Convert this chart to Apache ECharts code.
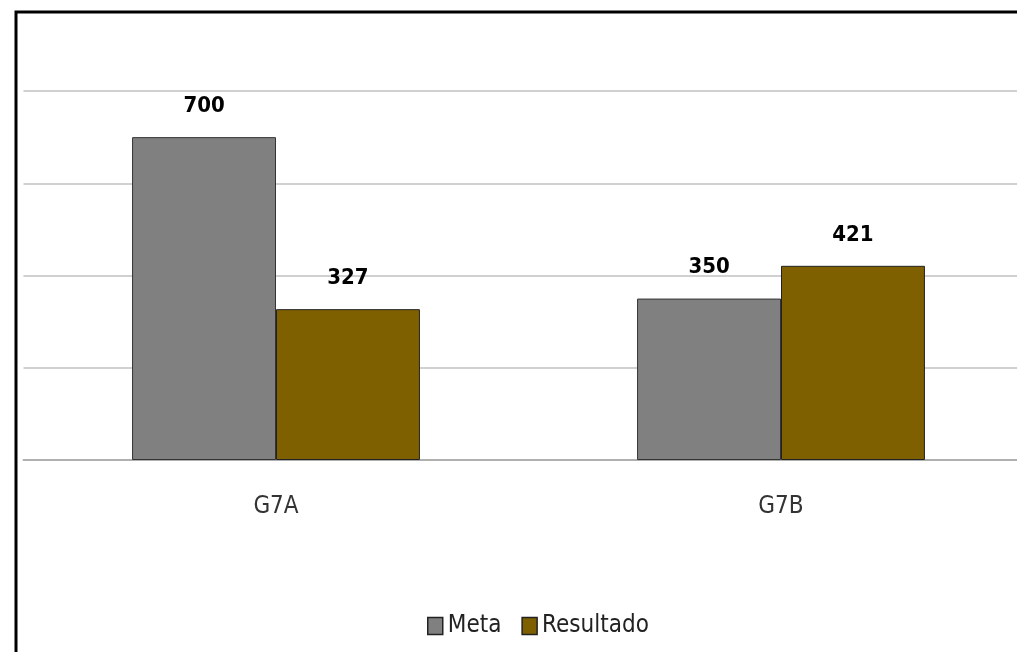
<!DOCTYPE html>
<html><head><meta charset="utf-8">
<script src="https://cdn.jsdelivr.net/npm/echarts@6/dist/echarts.min.js"></script>
<style>html,body{margin:0;padding:0;background:#fff;overflow:hidden;width:1017px;height:652px}#c{width:1040px;height:652px}</style>
</head><body><div id="c"></div>
<script>
const categories = ['G7A', 'G7B'];
const metaValues = [700, 350];
const resultadoValues = [327, 421];
const seriesNames = ['Meta', 'Resultado'];
const FONT = '"Liberation Sans Narrow","DejaVu Sans Condensed","Open Sans",sans-serif';
const chart = echarts.init(document.getElementById('c'), null, {renderer: 'canvas'});
const labelCfg = {show: true, position: 'top', distance: 20, color: '#000', fontWeight: 'bold', fontSize: 22, fontFamily: FONT};
chart.setOption({
  animation: false,
  backgroundColor: '#fff',
  graphic: [{type: 'rect', left: 13.5, top: 9.5, shape: {width: 1020, height: 660}, style: {fill: 'none', stroke: '#000', lineWidth: 3}, z: 100}],
  grid: {left: 23.5, width: 1010, top: 91, height: 369, containLabel: false},
  legend: {bottom: 9, left: 422, itemWidth: 15, itemHeight: 17, itemGap: 20,
    textStyle: {fontSize: 24, fontFamily: FONT, color: '#222'},
    data: seriesNames.map(n => ({name: n, icon: 'rect', itemStyle: {borderColor: '#222', borderWidth: 1.5}}))},
  xAxis: {type: 'category', data: categories,
    axisLine: {lineStyle: {color: '#b0b0b0', width: 2}}, axisTick: {show: false},
    axisLabel: {fontSize: 24, fontFamily: FONT, color: '#333', margin: 35}},
  yAxis: {type: 'value', min: 0, max: 800, interval: 200,
    axisLabel: {show: false}, axisLine: {show: false}, axisTick: {show: false},
    splitLine: {lineStyle: {color: '#d0d0d0', width: 2}}},
  series: [
    {name: 'Meta', type: 'bar', data: metaValues, barGap: '0%', barCategoryGap: '43%',
      itemStyle: {color: '#808080', borderColor: '#333', borderWidth: 1}, label: labelCfg},
    {name: 'Resultado', type: 'bar', data: resultadoValues,
      itemStyle: {color: '#7F6000', borderColor: '#222', borderWidth: 1}, label: labelCfg}
  ]
});
</script></body></html>
